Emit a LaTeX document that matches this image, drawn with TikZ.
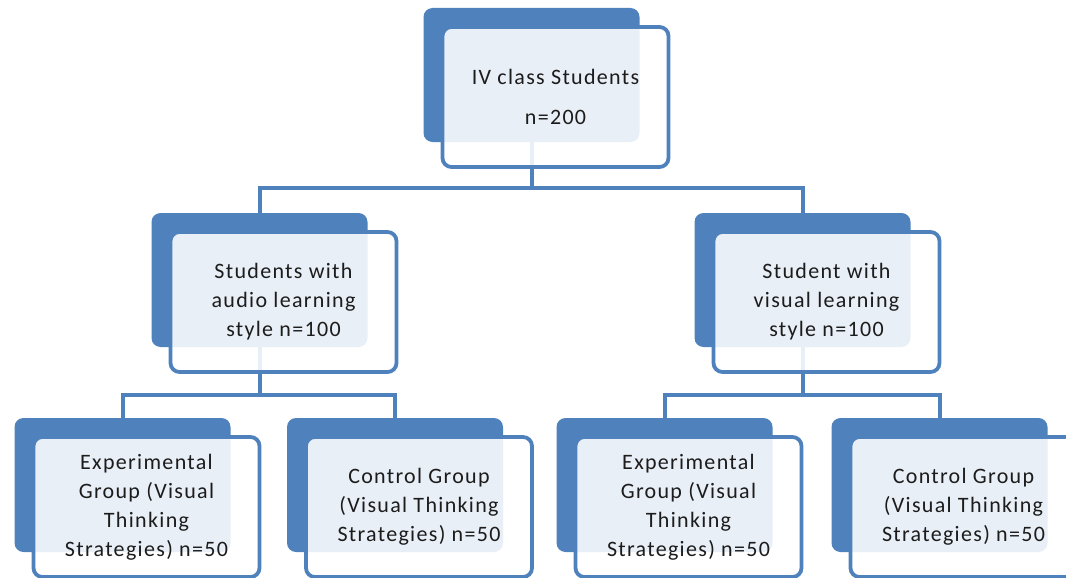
\documentclass[tikz,border=0pt]{standalone}
\usepackage{fontspec}
\setmainfont[LetterSpace=6]{Carlito}
\definecolor{accent}{HTML}{4F81BD}
\definecolor{ink}{HTML}{1C1C1C}
\tikzset{
  backbox/.style={rectangle, rounded corners=9pt, fill=accent, draw=none,
    minimum width=216pt, minimum height=134pt, inner sep=0pt},
  frontbox/.style={rectangle, rounded corners=9pt, draw=accent, line width=3.8pt,
    fill=white, fill opacity=0.88, text opacity=1,
    minimum width=226pt, minimum height=140pt, inner sep=0pt,
    align=center, text=ink, font=\fontsize{22pt}{29pt}\selectfont},
  conn/.style={draw=accent, line width=4pt}
}
\begin{document}
\begin{tikzpicture}[x=1pt,y=-1pt]
\useasboundingbox (0,0) rectangle (1066,578);
\clip (0,0) rectangle (1066,578);
% back boxes
\node[backbox] (tb)  at (531.5,75) {};
\node[backbox] (mlb) at (259.5,280) {};
\node[backbox] (mrb) at (802.5,280) {};
\node[backbox] (b1b) at (122.5,485) {};
\node[backbox] (b2b) at (395,485) {};
\node[backbox] (b3b) at (664.5,485) {};
\node[backbox] (b4b) at (939.5,485) {};
% junctions
\coordinate (j1) at (531.5,188);
\coordinate (j2) at (259.5,395);
\coordinate (j3) at (802.5,395);
% connectors
\draw[conn] (tb.south) -- (j1);
\draw[conn] (mlb.north) |- (j1) -| (mrb.north);
\draw[conn] (mlb.south) -- (j2);
\draw[conn] (b1b.north) |- (j2) -| (b2b.north);
\draw[conn] (mrb.south) -- (j3);
\draw[conn] (b3b.north) |- (j3) -| (b4b.north);
% front boxes
\node[frontbox, font=\fontsize{22pt}{40pt}\selectfont] (t) at (555.5,97) {IV class Students\\n=200};
\node[frontbox] (ml) at (283.5,302) {Students with\\audio learning\\style n=100};
\node[frontbox] (mr) at (826.5,302) {Student with\\visual learning\\style n=100};
\node[frontbox] (b1) at (146.5,507) {Experimental\\Group (Visual\\Thinking\\Strategies) n=50};
\node[frontbox] (b2) at (419,507) {Control Group\\(Visual Thinking\\Strategies) n=50};
\node[frontbox] (b3) at (688.5,507) {Experimental\\Group (Visual\\Thinking\\Strategies) n=50};
\node[frontbox] (b4) at (963.5,507) {Control Group\\(Visual Thinking\\Strategies) n=50};
\end{tikzpicture}
\end{document}
